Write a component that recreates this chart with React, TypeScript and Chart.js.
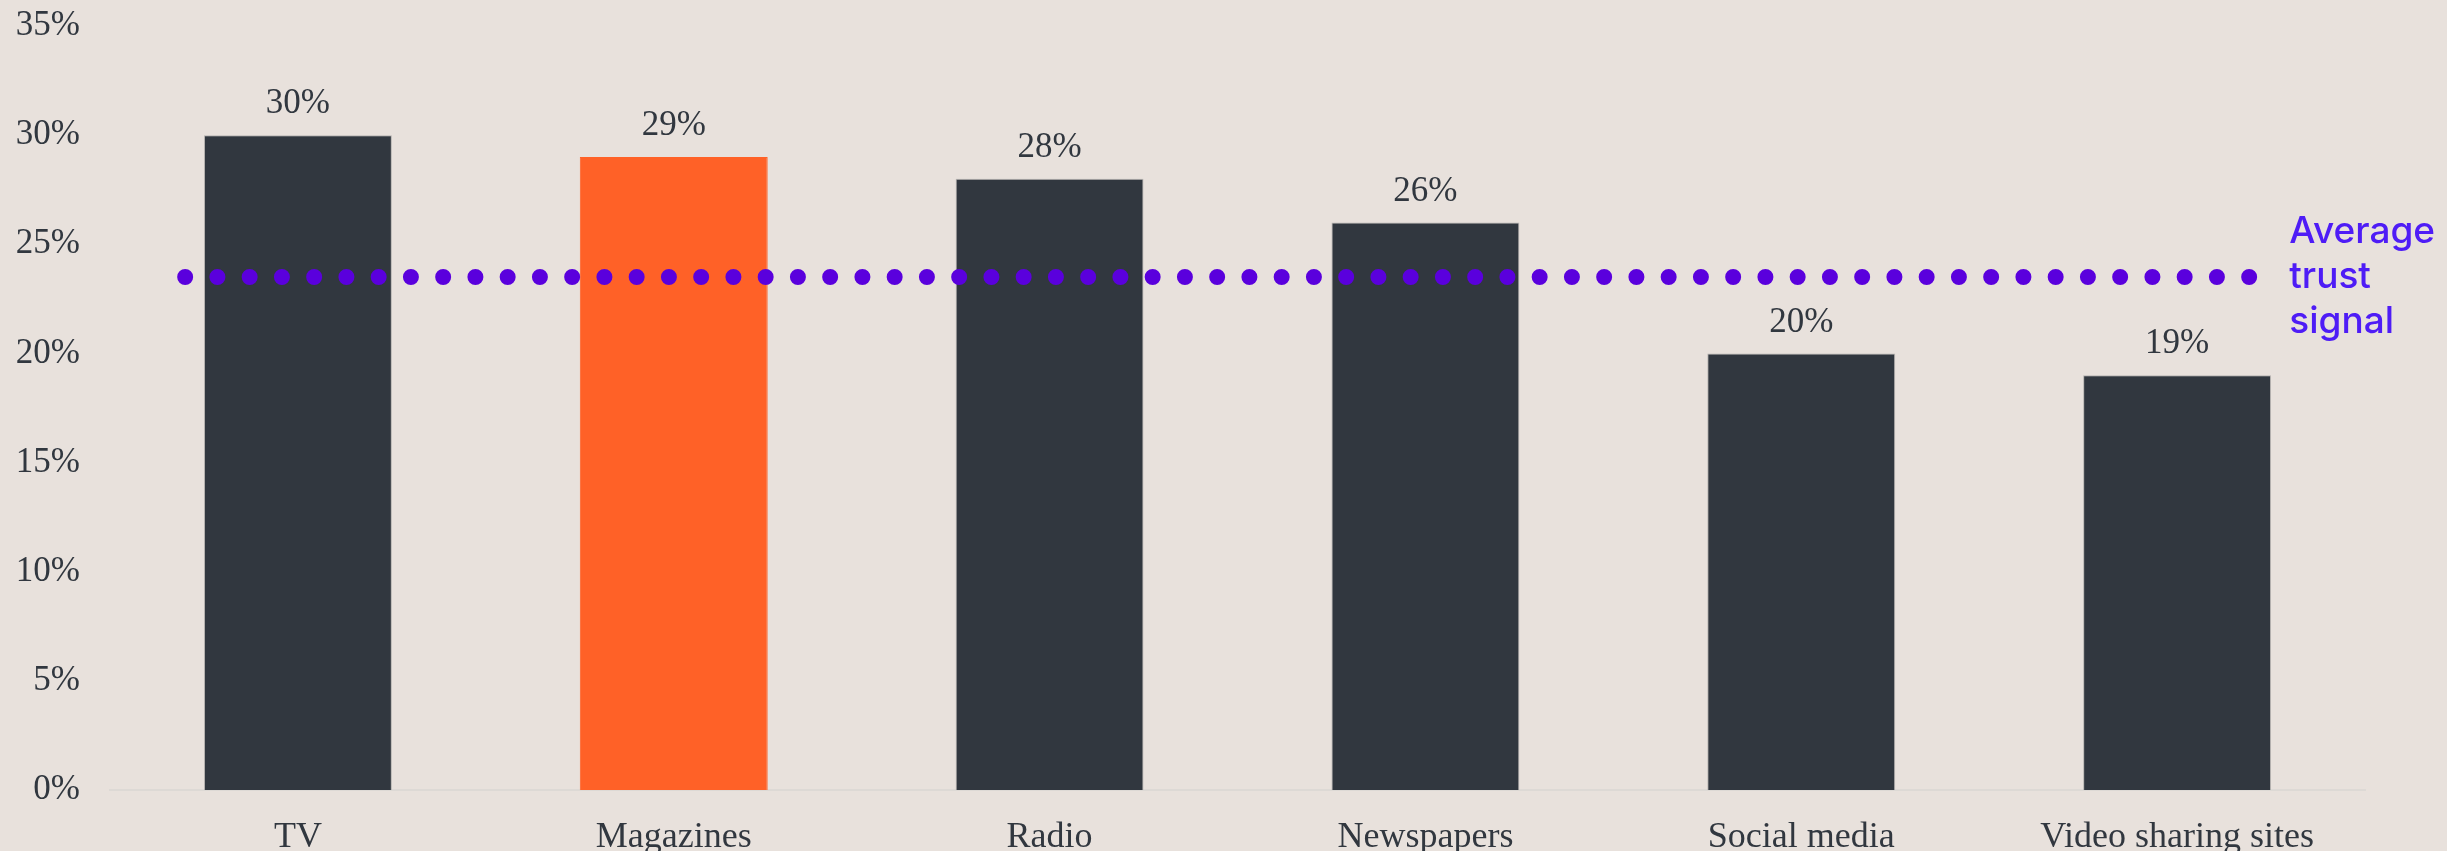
import React, { useEffect, useRef } from 'react';
import { Chart, registerables } from 'chart.js';

Chart.register(...registerables);

const categories = ['TV', 'Magazines', 'Radio', 'Newspapers', 'Social media', 'Video sharing sites'];
const trustValues = [30, 29, 28, 26, 20, 19];
const barColors = ['#31373F', '#FF6127', '#31373F', '#31373F', '#31373F', '#31373F'];
const averageValue = 23.5;
const averageLineFrom = -0.3; // category units
const averageLineTo = 5.2;
const averageLabel = ['Average', 'trust', 'signal'];
const yMin = 0;
const yMax = 35;
const yStep = 5;

const SERIF = '"Liberation Serif", "DejaVu Serif", serif';
const SANS = 'Inter, "Noto Sans", sans-serif';
const TEXT = '#31373F';
const PURPLE_DOT = '#5A00DD';
const PURPLE_TEXT = '#4E1CF6';

const labelPlugin = {
  id: 'customLabels',
  afterDatasetsDraw(chart: any) {
    const ctx = chart.ctx;
    const meta = chart.getDatasetMeta(0);
    ctx.save();
    ctx.font = `35px ${SERIF}`;
    ctx.fillStyle = TEXT;
    ctx.textAlign = 'center';
    ctx.textBaseline = 'middle';
    meta.data.forEach((bar: any, i: number) => {
      ctx.fillText(`${trustValues[i]}%`, bar.x, bar.y - 31);
    });
    const x2 = chart.scales.x2;
    const y = chart.scales.y;
    const lx = x2.getPixelForValue(averageLineTo) + 37;
    const ly = y.getPixelForValue(averageValue);
    ctx.font = `500 37px ${SANS}`;
    ctx.fillStyle = PURPLE_TEXT;
    ctx.textAlign = 'left';
    averageLabel.forEach((t, i) => {
      ctx.fillText(t, lx, ly + (i - 1) * 45);
    });
    ctx.restore();
  },
};

export default function App() {
  const canvasRef = useRef<HTMLCanvasElement | null>(null);

  useEffect(() => {
    document.body.style.margin = '0';
    const canvas = canvasRef.current;
    if (!canvas) return;
    const chart = new Chart(canvas, {
      type: 'bar',
      data: {
        labels: categories,
        datasets: [
          {
            type: 'bar',
            data: trustValues,
            backgroundColor: barColors,
            borderColor: barColors.map((c) => (c === '#31373F' ? 'rgba(150,150,150,0.6)' : c)),
            borderWidth: { top: 1, left: 1, right: 1, bottom: 0 },
            barPercentage: 0.5,
            categoryPercentage: 1,
            grouped: false,
            order: 1,
            xAxisID: 'x',
          } as any,
          {
            type: 'line',
            data: [
              { x: averageLineFrom, y: averageValue },
              { x: averageLineTo, y: averageValue },
            ],
            borderColor: PURPLE_DOT,
            borderWidth: 16,
            borderDash: [0, 32.25],
            borderCapStyle: 'round',
            pointRadius: 0,
            fill: false,
            order: 0,
            xAxisID: 'x2',
          } as any,
        ],
      },
      options: {
        responsive: false,
        animation: false,
        layout: { padding: { left: 0, right: 82, top: 26, bottom: 0 } },
        plugins: {
          legend: { display: false },
          tooltip: { enabled: false },
        },
        scales: {
          x: {
            type: 'category',
            offset: true,
            grid: { display: false, drawTicks: false },
            border: { display: true, color: '#DDD9D5', width: 2 },
            ticks: {
              color: TEXT,
              font: { family: SERIF, size: 36 },
              padding: 26,
              maxRotation: 0,
              autoSkip: false,
            },
            afterFit: (scale: any) => {
              scale.height = 61;
              scale.paddingLeft = 0;
              scale.paddingRight = 0;
            },
          },
          x2: {
            type: 'linear',
            display: false,
            offset: false,
            grid: { offset: false },
            min: -0.5,
            max: 5.5,
          },
          y: {
            min: yMin,
            max: yMax,
            grid: { display: false, drawTicks: false },
            border: { display: false },
            ticks: {
              stepSize: yStep,
              color: TEXT,
              font: { family: SERIF, size: 35 },
              padding: 30,
              callback: (v: any) => `${v}%`,
            },
            afterFit: (scale: any) => {
              scale.width = 110;
              scale.paddingTop = 0;
              scale.paddingBottom = 0;
            },
          },
        },
      } as any,
      plugins: [labelPlugin],
    });
    return () => chart.destroy();
  }, []);

  return (
    <div
      style={{
        position: 'absolute',
        left: 0,
        top: 0,
        width: 2447,
        height: 851,
        background: '#E8E1DC',
      }}
    >
      <canvas ref={canvasRef} width={2447} height={851} style={{ width: 2447, height: 851, display: 'block' }} />
    </div>
  );
}
